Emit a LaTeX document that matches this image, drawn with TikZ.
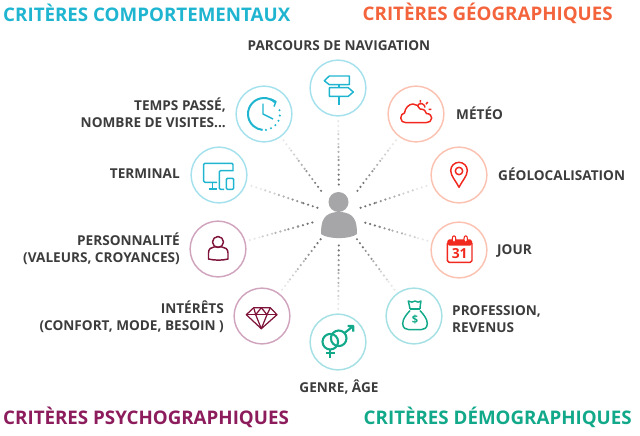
\documentclass[tikz,border=0pt]{standalone}
\usepackage{fontspec}
\setmainfont{Open Sans}
\usetikzlibrary{calc}
\definecolor{turquoise}{HTML}{1FB5D0}
\definecolor{orangered}{HTML}{F4643C}
\definecolor{redicon}{HTML}{F0281E}
\definecolor{plum}{HTML}{8C1C5C}
\definecolor{wine}{HTML}{7E1239}
\definecolor{emerald}{HTML}{12A98A}
\definecolor{textgrey}{HTML}{3C3C3C}
\definecolor{persongrey}{HTML}{A6A5A8}
\tikzstyle{title} = [font=\bfseries\fontsize{16}{18}\selectfont, inner sep=0pt]
\tikzstyle{label} = [font=\bfseries\fontsize{11.6}{14.6}\selectfont, text=textgrey, inner sep=0pt]
\tikzstyle{ring} = [circle, draw, line width=1.25pt, minimum size=47.6pt, inner sep=0pt]
\tikzstyle{cyanring} = [ring, draw=turquoise!40!white]
\tikzstyle{tealring} = [ring, draw=emerald!30!turquoise!40!white]
\tikzstyle{redring} = [ring, draw=orangered!40!white]
\tikzstyle{plumring} = [ring, draw=plum!40!white]
\tikzstyle{spoke} = [line width=2.1pt, line cap=round, dash pattern=on 0pt off 4.2pt]
\tikzstyle{icon} = [line width=1.25pt, line join=round]

\begin{document}
\begin{tikzpicture}[x=0.03cm, y=-0.03cm]
	\useasboundingbox (0,0) rectangle (640,435);
	% titles
	\node [title, text=turquoise, anchor=west] (behaviour) at (3,13) {CRITÈRES COMPORTEMENTAUX};
	\node [title, text=orangered, anchor=east] (geography) at (613,13) {CRITÈRES GÉOGRAPHIQUES};
	\node [title, text=plum, anchor=west] (psycho) at (3,417) {CRITÈRES PSYCHOGRAPHIQUES};
	\node [title, text=emerald, anchor=east] (demography) at (632,417) {CRITÈRES DÉMOGRAPHIQUES};

	% rings
	\node [cyanring] (route) at (338,88) {};
	\node [cyanring] (clock) at (264,114) {};
	\node [cyanring] (terminal) at (219,175) {};
	\node [plumring] (personality) at (218,249) {};
	\node [plumring] (interests) at (262,316) {};
	\node [tealring] (gender) at (338,342) {};
	\node [tealring] (money) at (414,316) {};
	\node [redring] (calendar) at (459,250) {};
	\node [redring] (pin) at (459,175) {};
	\node [redring] (weather) at (416,114) {};
	\coordinate (person) at (339,215);

	% spokes
	\foreach \ring/\start in {route/.24,clock/.24,terminal/.18,personality/.22,interests/.24,gender/.24,money/.24,calendar/.22,pin/.18,weather/.24} {
		\foreach \from/\to/\shade in {0/.17/55,.17/.32/42,.32/.47/30,.47/.62/18,.62/.75/9} {
			\draw [spoke, black!\shade] ($(person)!{\start+(.75-\start)*\from/.75}!(\ring)$) -- ($(person)!{\start+(.75-\start)*\to/.75}!(\ring)$);
		}
	}

	% person
	\fill [persongrey] (338.5,202) circle (10);
	\fill [persongrey] (321,234) .. controls (321,222) and (323,212) .. (339,212) .. controls (355,212) and (357,222) .. (357,234) .. controls (350,239.5) and (328,239.5) .. (321,234) -- cycle;

	% icons
	\begin{scope}[shift={(route)}, icon, draw=turquoise]
		\draw (-13.7,-7.3) -- (-8.7,-12) -- (11.3,-12) -- (11.3,-3.3) -- (-8.7,-3.3) -- cycle;
		\draw (-8.7,-.3) -- (10.3,-.3) -- (15.3,4) -- (10.3,8.3) -- (-8.7,8.3) -- cycle;
		\draw (1,-3.3) -- (1,-.3) (1,8.3) -- (1,16.7);
	\end{scope}
	\begin{scope}[shift={(clock)}, icon, draw=turquoise]
		\draw [line width=1.7pt] (0,0) ++(-47:16) arc (-47:-265:16);
		\draw [line width=2pt, line cap=round, dash pattern=on 0pt off 4.6pt] (0,0) ++(-277:16) arc (-277:-375:16);
		\draw (7,-15) -- (12,-12.5) -- (10,-7.5);
		\draw (-1,-10.5) -- (-1,0) -- (9,5);
	\end{scope}
	\begin{scope}[shift={(terminal)}, icon, draw=turquoise, rounded corners=1pt]
		\draw (14,-5) -- (14,-11.7) -- (-15.3,-11.7) -- (-15.3,7.3) -- (-2,7.3);
		\draw (-6.3,7.3) -- (-6.3,14) (-10.3,14) -- (-2,14);
		\draw (14.7,-4.3) -- (.3,-4.3) -- (.3,14.3) -- (5,14.3);
		\draw (7.3,3.3) rectangle (14.7,14.3);
	\end{scope}
	\begin{scope}[shift={(personality)}, icon, draw=wine]
		\draw (0,-7) circle (5.5);
		\draw (-9.5,10) -- (-9.5,4) .. controls (-9.5,0) and (-7,-2) .. (-4,-2) -- (4,-2) .. controls (7,-2) and (10,0) .. (10,4) -- (10,10) .. controls (5,11.5) and (-4,11.5) .. (-9.5,10) -- cycle;
	\end{scope}
	\begin{scope}[shift={(interests)}, icon, draw=wine, line width=1.05pt]
		\draw (-8.3,-8.3) -- (8.3,-8.3) -- (15,-1.3) -- (-.7,12.7) -- (-15.7,-1.3) -- cycle;
		\draw (-15.7,-1.3) -- (15,-1.3);
		\draw (-8.3,-8.3) -- (-6.3,-1.3) -- (-.7,-8.3) -- (5,-1.3) -- (8.3,-8.3);
		\draw (-6.3,-1.3) -- (-.7,12.7) -- (5,-1.3);
	\end{scope}
	\begin{scope}[shift={(gender)}, icon, draw=emerald, line width=1.8pt]
		\draw (-7.7,-.3) circle (7.8);
		\draw (.7,-3.7) circle (7.8);
		\draw (-7.7,7.5) -- (-7.7,15.7) (-12.3,11.3) -- (-3,11.3);
		\draw (6.5,-9) -- (15.3,-16) (9.7,-16) -- (15.3,-16) -- (15.3,-10.3);
	\end{scope}
	\begin{scope}[shift={(money)}, icon, draw=emerald]
		\draw (-4,-7) -- (6,-7);
		\draw (-4,-7) .. controls (-3.5,-10) and (-6,-12) .. (-5.7,-15) .. controls (-3,-13) and (-1,-14) .. (1,-15) .. controls (3,-14) and (5,-13) .. (7,-15) .. controls (7,-12) and (5.5,-10) .. (6,-7);
		\draw (-4,-5.5) .. controls (-8,-1) and (-11.3,3) .. (-11.3,7.7) .. controls (-11.3,12) and (-8,13.7) .. (-5,13.7) -- (7,13.7) .. controls (10,13.7) and (13.3,12) .. (13.3,7.7) .. controls (13.3,3) and (10,-1) .. (6,-5.5);
		\node [text=emerald, inner sep=0pt, font=\bfseries\fontsize{9.5}{10}\selectfont] (dollar) at (1,3.7) {\$};
	\end{scope}
	\begin{scope}[shift={(calendar)}, icon, draw=redicon]
		\fill [redicon, rounded corners=1.5pt] (-11.7,-10.7) rectangle (13,-4.5);
		\draw [rounded corners=1.5pt] (-11.7,-8) rectangle (13,12.3);
		\draw [fill=white, line width=.9pt] (-5,-11) ellipse (1.8 and 3.3);
		\draw [fill=white, line width=.9pt] (6.7,-11) ellipse (1.8 and 3.3);
		\node [text=redicon, inner sep=0pt, font=\bfseries\fontsize{11.8}{12}\selectfont] (day) at (.7,3.3) {31};
	\end{scope}
	\begin{scope}[shift={(pin)}, icon, draw=redicon]
		\draw (0,12.3) .. controls (-3,6) and (-8.3,1) .. (-8.3,-4.4) arc (180:360:8.3) .. controls (8.3,1) and (3,6) .. (0,12.3) -- cycle;
		\draw (0,-4) circle (3.7);
	\end{scope}
	\begin{scope}[shift={(weather)}, icon, draw=redicon]
		\draw (5,-6.5) ++(150:4) arc (150:360:4) ;
		\draw (4.3,-14) -- (4.3,-11.3) (11.7,-12) -- (10,-9.7) (15.3,-4.7) -- (12.7,-4.7);
		\draw [fill=white] (-10,8.7) .. controls (-13,8.7) and (-15.3,7) .. (-15.3,4) .. controls (-15.3,1) and (-13.5,-.5) .. (-11.5,-1) .. controls (-11,-6) and (-7,-10) .. (-3,-10) .. controls (0,-10) and (3,-8) .. (4,-5) .. controls (8,-5) and (10,-3) .. (10.5,-.5) .. controls (14,-.5) and (15.7,2) .. (15.7,4) .. controls (15.7,7) and (13,8.7) .. (10,8.7) -- cycle;
	\end{scope}

	% labels
	\node [label] (routetext) at (339,46) {PARCOURS DE NAVIGATION};
	\node [label, align=right, anchor=east] (clocktext) at (226,113) {TEMPS PASSÉ,\\NOMBRE DE VISITES...};
	\node [label, anchor=east] (terminaltext) at (180,174) {TERMINAL};
	\node [label, align=right, anchor=east] (personalitytext) at (180,249) {PERSONNALITÉ\\(VALEURS, CROYANCES)};
	\node [label, align=right, anchor=east] (intereststext) at (224,317) {INTÉRÊTS\\(CONFORT, MODE, BESOIN )};
	\node [label] (gendertext) at (339,387) {GENRE, ÂGE};
	\node [label, align=left, anchor=west] (moneytext) at (452,319) {PROFESSION,\\REVENUS};
	\node [label, anchor=west] (calendartext) at (497,251) {JOUR};
	\node [label, anchor=west] (pintext) at (498,174) {GÉOLOCALISATION};
	\node [label, anchor=west] (weathertext) at (456,113) {MÉTÉO};
\end{tikzpicture}
\end{document}
